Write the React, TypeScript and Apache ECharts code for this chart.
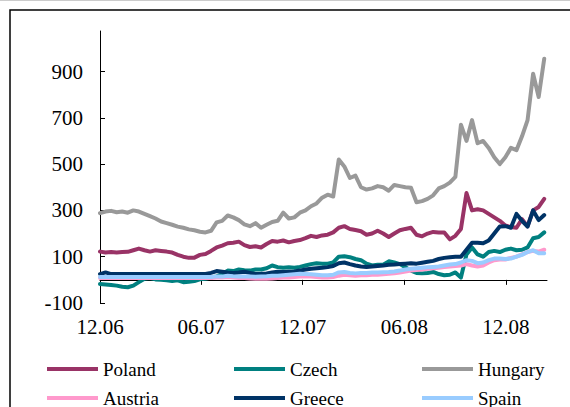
import React, { useEffect, useRef } from "react";
import * as echarts from "echarts";

// Sampled every 10 days starting 1 Dec 2006
const START = "2006-12-01";
const STEP_DAYS = 10;

const tickDates = ["2006-12-01", "2007-06-01", "2007-12-01", "2008-06-01", "2008-12-01"];
const tickLabels = ["12.06", "06.07", "12.07", "06.08", "12.08"];
const yTicks = [-100, 100, 300, 500, 700, 900];

const seriesNames = ["Poland", "Czech", "Hungary", "Austria", "Greece", "Spain"];
const seriesColors = ["#993366", "#008080", "#999999", "#FF99CC", "#003366", "#99CCFF"];

const poland = [
  122, 118, 120, 118, 120, 121, 128, 135, 128, 122,
  128, 125, 122, 118, 108, 100, 95, 96, 108, 112,
  125, 140, 148, 158, 160, 165, 150, 142, 145, 140,
  155, 168, 165, 170, 162, 168, 172, 180, 190, 185,
  192, 195, 205, 225, 232, 220, 215, 210, 195, 200,
  212, 200, 185, 200, 214, 220, 225, 195, 188, 200,
  207, 205, 205, 175, 190, 220, 375, 300, 305, 300,
  285, 270, 255, 235, 228, 225, 262, 232, 300, 315,
  350,
];
const czech = [
  -18, -20, -22, -25, -30, -32, -25, -10, 5, 8,
  2, 0, -2, -5, -2, -10, -8, -5, 2, 5,
  10, 15, 25, 40, 38, 45, 42, 40, 45, 45,
  50, 62, 55, 52, 54, 52, 56, 62, 68, 72,
  70, 70, 75, 100, 102, 98, 90, 85, 70, 62,
  65, 65, 80, 75, 68, 55, 40, 30, 28, 30,
  34, 25, 20, 22, 32, 10, 110, 140, 110, 100,
  120, 125, 120, 130, 135, 128, 130, 140, 180, 185,
  205,
];
const hungary = [
  288, 295, 298, 292, 295, 290, 300, 295, 285, 275,
  265, 252, 245, 238, 230, 225, 218, 214, 208, 205,
  212, 248, 255, 278, 270, 258, 240, 232, 245, 225,
  238, 250, 255, 290, 265, 270, 290, 300, 318, 330,
  355, 368, 360, 520, 490, 440, 450, 400, 390, 395,
  405, 400, 385, 410, 405, 400, 398, 335, 340, 350,
  365, 395, 405, 420, 445, 670, 600, 690, 590, 600,
  570, 530, 500, 530, 570, 560, 620, 690, 890, 790,
  955,
];
const austria = [
  8, 8, 8, 8, 8, 8, 8, 8, 8, 8,
  8, 8, 8, 8, 8, 8, 8, 8, 8, 8,
  8, 10, 10, 12, 10, 8, 8, 6, 5, 6,
  5, 6, 8, 10, 10, 12, 14, 15, 14, 12,
  10, 10, 12, 18, 22, 20, 18, 20, 20, 22,
  22, 24, 26, 28, 32, 36, 40, 42, 45, 48,
  50, 52, 55, 58, 60, 62, 68, 62, 58, 62,
  75, 85, 88, 88, 95, 100, 110, 120, 125, 122,
  130,
];
const greece = [
  25, 32, 25, 25, 25, 25, 25, 25, 25, 25,
  25, 25, 25, 25, 25, 25, 25, 25, 25, 25,
  30, 38, 35, 32, 30, 32, 35, 30, 25, 26,
  28, 32, 35, 34, 35, 36, 40, 45, 48, 50,
  52, 55, 60, 72, 75, 68, 62, 58, 56, 58,
  60, 62, 65, 66, 68, 70, 72, 70, 74, 78,
  82, 90, 95, 98, 100, 100, 130, 160, 160, 158,
  170, 200, 230, 232, 225, 285, 255, 230, 300, 258,
  280,
];
const spain = [
  12, 12, 12, 12, 12, 12, 12, 12, 12, 12,
  12, 12, 12, 12, 12, 12, 12, 12, 12, 12,
  12, 15, 14, 18, 16, 15, 14, 15, 13, 15,
  16, 18, 18, 20, 22, 24, 26, 25, 24, 22,
  20, 20, 22, 32, 34, 30, 28, 30, 30, 32,
  32, 33, 34, 36, 40, 45, 48, 50, 52, 54,
  56, 58, 62, 66, 68, 75, 85, 82, 72, 75,
  85, 92, 92, 90, 92, 100, 108, 120, 128, 115,
  115,
];

const allValues = [poland, czech, hungary, austria, greece, spain];

const FONT = "'Liberation Serif', 'Times New Roman', serif";

function dayOffset(d: string): number {
  return Math.round((Date.parse(d + "T00:00:00Z") - Date.parse(START + "T00:00:00Z")) / 86400000);
}

export default function App() {
  const ref = useRef<HTMLDivElement>(null);

  useEffect(() => {
    if (!ref.current) return;
    const chart = echarts.init(ref.current, undefined, { renderer: "svg" });

    const tickDays = tickDates.map(dayOffset);
    const labelByDay: Record<number, string> = {};
    tickDays.forEach((d, i) => (labelByDay[d] = tickLabels[i]));

    const series = seriesNames.map((name, si) => ({
      name,
      type: "line",
      xAxisIndex: 0,
      data: allValues[si].map((v, i) => [i * STEP_DAYS, v]),
      showSymbol: false,
      symbol: "none",
      lineStyle: { color: seriesColors[si], width: 4, join: "round", cap: "round" },
      itemStyle: { color: seriesColors[si] },
      z: 2 + si,
    }));

    const legendPos = [
      { left: 47, top: 358 },
      { left: 234, top: 358 },
      { left: 422, top: 358 },
      { left: 47, top: 387 },
      { left: 234, top: 387 },
      { left: 422, top: 387 },
    ];

    const legends = seriesNames.map((name, i) => ({
      data: [name],
      left: legendPos[i].left,
      top: legendPos[i].top,
      orient: "horizontal",
      padding: 0,
      itemWidth: 51,
      itemHeight: 4,
      icon: "rect",
      selectedMode: false,
      textStyle: { fontFamily: FONT, fontSize: 19, color: "#000", lineHeight: 22 },
    }));

    const xMax = 805;

    chart.setOption({
      animation: false,
      backgroundColor: "#ffffff",
      grid: { left: 100, right: 23, top: 31, bottom: 104, containLabel: false },
      xAxis: [
        {
          type: "value",
          min: 0,
          max: xMax,
          axisLine: { show: true, onZero: true, lineStyle: { color: "#000", width: 1 } },
          axisTick: { show: true, inside: false, length: 5, customValues: tickDays, lineStyle: { color: "#000" } },
          axisLabel: { show: false },
          splitLine: { show: false },
        },
        {
          type: "value",
          min: 0,
          max: xMax,
          position: "bottom",
          axisLine: { show: false, onZero: false },
          axisTick: { show: false },
          axisLabel: {
            show: true,
            customValues: tickDays,
            margin: 13,
            fontFamily: FONT,
            fontSize: 21,
            color: "#000",
            formatter: (v: number) => labelByDay[v] ?? "",
          },
          splitLine: { show: false },
        },
      ],
      yAxis: {
        type: "value",
        min: -100,
        max: 1075,
        axisLine: { show: true, onZero: false, lineStyle: { color: "#000", width: 1 } },
        axisTick: { show: true, inside: true, length: 5, customValues: yTicks, lineStyle: { color: "#000" } },
        axisLabel: {
          show: true,
          customValues: yTicks,
          margin: 17,
          fontFamily: FONT,
          fontSize: 21,
          color: "#000",
        },
        splitLine: { show: false },
      },
      legend: legends,
      series,
      graphic: [
        {
          type: "line",
          shape: { x1: 0, y1: 0.5, x2: 570, y2: 0.5 },
          style: { stroke: "#cccccc", lineWidth: 1 },
          silent: true,
        },
        {
          type: "rect",
          shape: { x: 10, y: 10, width: 600, height: 450 },
          style: { fill: "none", stroke: "#000", lineWidth: 1.5 },
          silent: true,
          z: 100,
        },
      ],
    });

    return () => chart.dispose();
  }, []);

  return (
    <div
      ref={ref}
      style={{ position: "fixed", left: 0, top: 0, width: 570, height: 407, background: "#fff" }}
    />
  );
}
